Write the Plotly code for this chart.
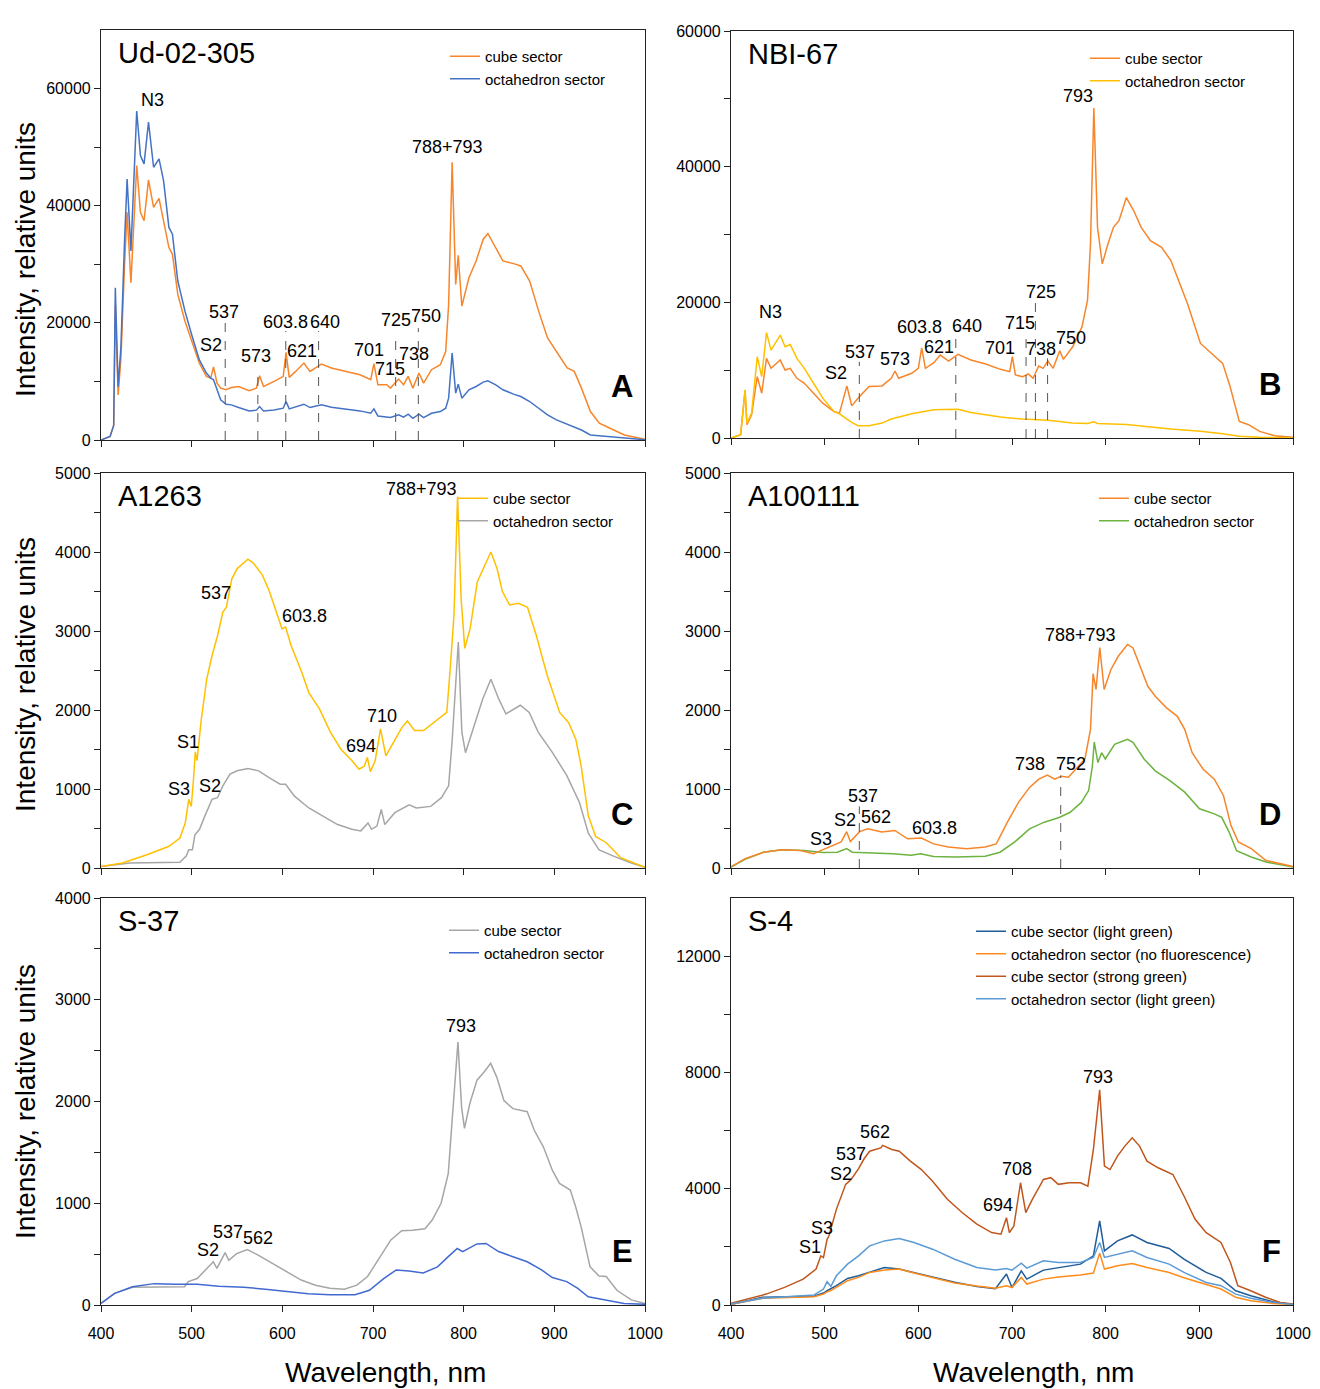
import plotly.graph_objects as go

# ---------------- DATA ----------------
# Panel A: Ud-02-305
A_wl = [400, 410, 414, 415.8, 418.9, 422, 426, 428.8, 433, 439.4, 443.5, 447.5, 452.4, 458, 464, 469, 474.9, 478.8,
        484.7, 492.6, 500.5, 508.4, 516.2, 521, 524.1, 528, 532, 537.9, 543.8, 551.7, 563.5, 571.4, 574.9, 579.3,
        591, 601, 604.1, 607.6, 614.7, 623.8, 630.5, 643.1, 654.1, 669.9, 685.7, 697.5, 701, 705.4, 715.2, 719.2,
        728.2, 733.7, 738.8, 744, 750.7, 755.8, 764.5, 774.3, 780.2, 783.4, 787.3, 791.2, 794, 798, 805.8, 813.7,
        821.6, 826.7, 835.4, 843.3, 855.1, 863, 872.8, 882.7, 892.5, 902.4, 914.2, 922, 929.9, 939.8, 949.6, 961.5,
        977.2, 1000]
A_cube = [0, 600, 2500, 23000, 7700, 14000, 30000, 38860, 26860, 46860, 38860, 37430, 44400, 39700, 41260, 37430,
          32860, 31700, 24860, 20290, 16860, 13140, 10860, 10570, 12460, 9710, 8860, 8570, 8970, 9140, 8400, 8860,
          10970, 9140, 10000, 10860, 14970, 10690, 11710, 13140, 11710, 12970, 12290, 11710, 11140, 10290, 13030,
          9430, 9430, 8860, 10400, 9430, 10860, 8860, 11430, 9710, 12000, 12860, 15140, 23140, 47430, 26570, 31540,
          22860, 27710, 30570, 34290, 35260, 32860, 30570, 30110, 29710, 27140, 22000, 17430, 15140, 12290, 11710,
          8860, 4860, 2860, 2000, 860, 110]
A_octa = [0, 600, 2500, 26000, 9100, 16000, 34000, 44570, 32280, 56170, 48570, 47140, 54290, 46570, 48000, 44290,
          36290, 35140, 27140, 22000, 17710, 13710, 11430, 10570, 10290, 8570, 6860, 6110, 6000, 5540, 4970, 5100,
          5710, 4970, 5140, 5430, 6570, 5310, 5710, 6110, 5540, 6000, 5600, 5260, 4970, 4570, 5310, 4110, 4000,
          3830, 4290, 3900, 4400, 3710, 4400, 3830, 4570, 4860, 5430, 7140, 14860, 8000, 9540, 7140, 8570, 9140,
          9890, 10110, 9430, 8570, 7830, 7430, 6570, 5430, 4290, 3430, 2690, 2290, 1710, 860, 740, 510, 290, 50]

# Panel B: NBI-67
B_cube_wl = [400, 410.3, 415, 417, 422, 428, 432.8, 437.9, 442.7, 452.6, 457.7, 463.2, 470.4, 478.3, 488.1, 498,
             509.9, 515.8, 523.7, 528.9, 535.6, 547.4, 561.3, 571.1, 575.1, 579, 592.9, 600, 603.6, 607.5, 616.6,
             623.3, 632.4, 642.3, 656.1, 671.9, 687.7, 697.6, 700.4, 703.6, 711.5, 717.4, 722.5, 728.5, 733.2,
             738.3, 743.9, 751, 754.9, 764.8, 774.7, 780.6, 783.8, 787.4, 791.3, 796.4, 802.4, 808.3, 814.2,
             822.1, 830, 837.9, 847.8, 859.7, 869.6, 877.5, 887.4, 901.2, 913, 924.9, 932.8, 942.7, 952.6, 964.4,
             980.2, 1000]
B_cube = [0, 490, 7000, 1960, 3420, 9050, 6600, 11740, 10270, 11490, 10020, 10270, 8800, 8070, 6600, 5130, 3910,
          3670, 7680, 4740, 5870, 7580, 7680, 8800, 9880, 8800, 9540, 10270, 13300, 10270, 11100, 12230, 11350,
          12320, 11490, 10900, 10120, 9780, 11980, 9290, 9050, 9440, 8800, 10610, 10270, 11350, 10270, 12860,
          11590, 13450, 16380, 20290, 28610, 48660, 31050, 25670, 28610, 31050, 32030, 35450, 33500, 31050,
          29100, 28120, 26160, 23230, 19800, 13940, 12470, 11000, 7580, 2450, 1960, 980, 340, 100]
B_octa_wl = [400, 410.3, 415, 417, 422, 428, 432.8, 437.9, 442.7, 452.6, 457.7, 463.2, 470.4, 478.3, 488.1, 498,
             509.9, 515.8, 523.7, 528.9, 535.6, 547.4, 561.3, 571.1, 592.9, 616.6, 642.3, 656.1, 671.9, 687.7,
             711.5, 738.3, 764.8, 780.6, 787.4, 791.3, 822.1, 869.6, 901.2, 924.9, 942.7, 964.4, 1000]
B_octa = [0, 490, 7090, 2200, 3670, 11980, 9050, 15550, 12960, 15160, 13450, 13790, 11740, 10270, 8070, 5870,
          3910, 3570, 2790, 2300, 1810, 1810, 2200, 2790, 3570, 4160, 4250, 3770, 3420, 3080, 2790, 2600, 2200,
          2150, 2400, 2150, 2000, 1320, 980, 640, 250, 100, 0]

# Panel C: A1263
C_cube_wl = [400, 423.7, 451.4, 475.1, 487, 492.9, 496.8, 499.6, 502, 504, 505.9, 510.7, 516.6, 522.5, 528.5,
             534.4, 538.3, 544.3, 550.2, 562.1, 568, 577.9, 585.8, 593.7, 599.6, 603.6, 609.5, 621.3, 629.2,
             641.1, 653, 664.8, 676.7, 684.6, 690.5, 693.7, 697.2, 702.4, 708.3, 714.2, 724.1, 732, 737.9, 745.8,
             755.7, 771.5, 781.4, 785.4, 789.3, 793.3, 797.2, 801.2, 807.1, 815, 822.9, 830, 836.8, 842.7, 850.6,
             860.5, 870.4, 880.2, 892.1, 905.9, 915.8, 923.7, 929.6, 937.5, 945.5, 957.3, 973.1, 1000]
C_cube = [20, 64, 170, 275, 380, 570, 870, 780, 1120, 1470, 1360, 1890, 2390, 2690, 2940, 3240, 3300, 3660, 3790,
          3910, 3860, 3710, 3500, 3240, 3030, 3050, 2820, 2480, 2220, 2010, 1720, 1500, 1360, 1250, 1290, 1400,
          1220, 1360, 1760, 1420, 1630, 1780, 1860, 1740, 1740, 1880, 1970, 2560, 3200, 4700, 3410, 2780, 3030,
          3620, 3830, 4000, 3790, 3500, 3330, 3350, 3300, 2940, 2440, 1970, 1840, 1630, 1290, 660, 400, 320, 130, 10]
C_octa_wl = [400, 431.6, 487, 494, 496.8, 500.8, 503.6, 508.7, 514.6, 522.5, 528.5, 534.4, 542.3, 550.2, 562.1,
             573.9, 585.8, 597.6, 603.6, 613.4, 629.2, 645.1, 660.9, 676.7, 686.6, 694.5, 698.4, 704.3, 709.1,
             713, 724.1, 739.9, 747.8, 763.6, 775.5, 783.4, 787.4, 794.1, 798, 802, 811.1, 821, 830, 838.7, 846.6,
             862.5, 872.3, 882.2, 898, 913.8, 927.7, 937.5, 949.4, 965.2, 985, 1000]
C_octa = [20, 64, 72, 150, 230, 230, 420, 490, 660, 870, 890, 1040, 1190, 1230, 1260, 1230, 1140, 1060, 1060, 910,
          760, 660, 550, 490, 470, 570, 490, 530, 740, 550, 700, 800, 760, 780, 890, 1040, 1630, 2860, 1720, 1460,
          1800, 2140, 2390, 2140, 1950, 2060, 1970, 1720, 1460, 1170, 830, 440, 230, 150, 64, 10]

# Panel D: A100111
D_cube_wl = [400, 415, 434.7, 454.4, 474.2, 488, 493.9, 505.7, 517.6, 523.5, 527.4, 537.3, 546, 561, 574.8, 588.6,
             603.2, 616.2, 632, 651.7, 671.4, 683.2, 695.1, 706.9, 718.7, 728.6, 737.7, 745.6, 752.3, 760.2, 770,
             777.9, 783.8, 786.6, 789.7, 793.7, 798.4, 805.5, 813.4, 823.3, 829.2, 837.1, 845, 852.9, 864.7, 876.5,
             884.4, 892.3, 904.1, 916, 925.8, 933.7, 941.6, 955.4, 971.2, 1000]
D_cube = [13, 118, 200, 230, 220, 180, 210, 265, 330, 460, 335, 460, 495, 455, 475, 370, 380, 305, 265, 245, 265,
          305, 580, 830, 1020, 1125, 1175, 1125, 1160, 1150, 1270, 1380, 1755, 2460, 2260, 2790, 2260, 2510, 2680,
          2830, 2785, 2550, 2300, 2175, 2030, 1920, 1755, 1460, 1250, 1125, 915, 540, 330, 245, 95, 20]
D_octa_wl = [400, 415, 434.7, 454.4, 478.1, 497.8, 513.6, 523.5, 529.4, 553.1, 572.8, 592.5, 602.4, 616.2, 639.8,
             671.4, 687.2, 703, 718.7, 734.5, 750.3, 762.1, 774, 781.8, 785.8, 787.8, 791.7, 795.7, 799.6, 809.5,
             823.3, 829.2, 841, 852.9, 868.6, 884.4, 900.2, 916, 923.9, 931.8, 939.7, 955.4, 971.2, 1000]
D_octa = [13, 110, 200, 230, 220, 195, 200, 245, 200, 190, 180, 160, 180, 145, 140, 150, 200, 330, 495, 580, 640,
          705, 830, 980, 1290, 1595, 1335, 1460, 1380, 1565, 1630, 1590, 1380, 1230, 1105, 960, 750, 685, 640, 455,
          220, 140, 75, 13]

# Panel E: S-37
E_cube_wl = [400, 415, 434.8, 458.6, 492.2, 496.2, 506.1, 523.9, 527.8, 536.9, 540.9, 549.6, 561.5, 573.3, 589.2,
             605, 620.8, 636.6, 652.5, 668.3, 682.2, 694, 707.9, 719.7, 731.6, 743.5, 757.3, 765.3, 775.1, 783,
             787, 793.7, 797.7, 800.9, 806.8, 814.7, 822.6, 829.8, 836.5, 844.4, 854.3, 862.2, 870.1, 878, 887.9,
             897.8, 905.7, 917.6, 923.5, 929.5, 939.4, 949.3, 957.2, 969, 984.9, 1000]
E_cube = [16, 115, 175, 180, 180, 230, 260, 425, 360, 515, 440, 505, 545, 490, 410, 325, 245, 195, 165, 155, 195,
          280, 475, 640, 730, 735, 750, 835, 1000, 1290, 1780, 2585, 1945, 1735, 1980, 2210, 2290, 2375, 2240,
          2010, 1930, 1915, 1900, 1715, 1555, 1325, 1195, 1130, 965, 770, 375, 285, 280, 145, 50, 15]
E_octa_wl = [400, 415, 434.8, 458.6, 482.3, 506.1, 529.8, 557.5, 581.2, 605, 628.7, 652.5, 680.2, 696, 711.8,
             725.7, 739.6, 755.4, 771.2, 783, 792.9, 798.9, 814.7, 824.6, 838.5, 854.3, 870.1, 885.9, 897.8, 913.6,
             925.5, 937.4, 953.2, 976.9, 1000]
E_octa = [16, 115, 180, 210, 205, 205, 185, 175, 155, 130, 110, 100, 100, 145, 260, 345, 335, 315, 375, 475, 555,
          525, 600, 605, 525, 475, 425, 345, 270, 230, 165, 80, 55, 15, 7]

# Panel F: S-4
F_strong_wl = [400, 417.8, 437.5, 457.2, 477, 490.8, 495.9, 498.7, 502.6, 504.6, 512.5, 522.4, 528.3, 536.2,
               542.1, 548, 559.9, 561.9, 571.7, 579.6, 591.5, 603.3, 615.2, 631, 646.7, 662.5, 678.3, 688.2,
               694.1, 697.2, 702, 709.1, 714.7, 721.7, 733.6, 741.5, 749.4, 761.2, 773.1, 781, 786.9, 793.6, 798.7,
               804.7, 812.6, 820.5, 828.3, 836.2, 844.1, 856, 871.8, 883.6, 895.5, 907.3, 923.1, 933.2, 941.1,
               954.9, 970.7, 986.4, 1000]
F_strong = [57, 205, 375, 605, 890, 1235, 1690, 1630, 2260, 2380, 3290, 4150, 4320, 4690, 5030, 5290, 5405, 5490,
            5350, 5290, 4950, 4660, 4260, 3635, 3180, 2780, 2490, 2435, 3005, 2490, 2720, 4205, 3180, 3635, 4320,
            4380, 4150, 4205, 4205, 4090, 5350, 7405, 4780, 4660, 5120, 5465, 5750, 5465, 4950, 4720, 4490, 3750,
            2950, 2490, 2150, 1465, 665, 490, 265, 90, 30]
F_common_wl = [400, 433.6, 488.8, 498.7, 502.6, 506.6, 512.5, 524.4, 536.2, 548, 563.8, 579.6, 595.4, 615.2, 638.8,
               662.5, 682.3, 694.1, 700, 709.9, 715.8, 733.6, 749.4, 773.1, 786.9, 793.6, 798.7, 812.6, 828.3,
               844.1, 867.8, 883.6, 907.3, 923.1, 938.9, 954.9, 978.3, 1000]
F_octa_light = [30, 230, 345, 550, 800, 640, 1005, 1405, 1690, 2035, 2205, 2285, 2150, 1920, 1575, 1290, 1200,
                1255, 1200, 1440, 1270, 1520, 1465, 1465, 1635, 2150, 1635, 1750, 1865, 1635, 1405, 1120, 775,
                665, 375, 230, 90, 20]
F_cube_light = [20, 265, 300, 410, 490, 560, 665, 915, 1005, 1130, 1290, 1235, 1120, 970, 780, 640, 560, 1065,
                600, 1175, 890, 1200, 1290, 1405, 1690, 2890, 1865, 2205, 2410, 2150, 1945, 1575, 1120, 915, 490,
                320, 115, 20]
F_octa_none = [20, 230, 285, 375, 450, 500, 605, 835, 950, 1120, 1200, 1235, 1100, 950, 760, 650, 580, 665, 600,
               950, 720, 890, 960, 1030, 1100, 1785, 1235, 1350, 1430, 1290, 1120, 940, 700, 550, 265, 150, 55, 15]

# dashed marker lines: (wavelength, top intensity)
A_marks_wl = [537, 573, 603.8, 640, 725, 750]
A_marks_top = [20300, 12300, 18600, 18600, 18300, 19100]
B_marks_wl = [537, 640, 715, 725, 738]
B_marks_top = [11250, 14700, 15900, 20050, 11740]
D_marks_wl = [537, 752]
D_marks_top = [780, 1170]

# peak labels: (text, wavelength, intensity)
A_labels = [("N3", 457, 58100), ("S2", 521, 16300), ("537", 535.6, 21900), ("573", 571, 14400),
            ("603.8", 603, 20200), ("621", 621.6, 15250), ("640", 647, 20200), ("701", 695.5, 15400),
            ("715", 718.6, 12200), ("725", 725, 20570), ("750", 758, 21250), ("738", 745, 14740),
            ("788+793", 782.6, 50050)]
B_labels = [("N3", 441.9, 18580), ("S2", 511.9, 9540), ("537", 537.5, 12710), ("573", 575, 11590),
            ("603.8", 600.8, 16380), ("621", 621.7, 13450), ("640", 652.2, 16480), ("701", 687, 13200),
            ("715", 708.7, 16970), ("725", 731.2, 21520), ("738", 731.2, 13060), ("750", 762.8, 14670),
            ("793", 770.8, 50370)]
C_labels = [("537", 526.5, 3475), ("603.8", 624.5, 3190), ("710", 710.3, 1920), ("694", 686.6, 1550),
            ("S1", 495.7, 1600), ("S3", 486.2, 1000), ("S2", 520.6, 1040), ("788+793", 753, 4800)]
D_labels = [("788+793", 772.8, 2950), ("738", 719.5, 1315), ("752", 763, 1315), ("537", 541.2, 915),
            ("S2", 521.5, 613), ("562", 555, 643), ("603.8", 617.4, 504), ("S3", 495.9, 370)]
E_labels = [("793", 796.9, 2745), ("S2", 517.9, 540), ("537", 539.7, 720), ("562", 573.3, 655)]
F_labels = [("793", 792, 7860), ("562", 554, 5945), ("537", 528.3, 5180), ("S2", 517.3, 4490),
            ("708", 704.8, 4665), ("694", 685.4, 3430), ("S3", 497.5, 2660), ("S1", 484.1, 2000)]

samples = ["Ud-02-305", "NBI-67", "A1263", "A100111", "S-37", "S-4"]
panel_letters = ["A", "B", "C", "D", "E", "F"]

x_ticks = [400, 500, 600, 700, 800, 900, 1000]
y_ticks = {
    1: ([0, 10000, 20000, 30000, 40000, 50000, 60000], ["0", "", "20000", "", "40000", "", "60000"]),
    2: ([0, 10000, 20000, 30000, 40000, 50000, 60000], ["0", "", "20000", "", "40000", "", "60000"]),
    3: ([0, 500, 1000, 1500, 2000, 2500, 3000, 3500, 4000, 4500, 5000],
        ["0", "", "1000", "", "2000", "", "3000", "", "4000", "", "5000"]),
    4: ([0, 500, 1000, 1500, 2000, 2500, 3000, 3500, 4000, 4500, 5000],
        ["0", "", "1000", "", "2000", "", "3000", "", "4000", "", "5000"]),
    5: ([0, 500, 1000, 1500, 2000, 2500, 3000, 3500, 4000],
        ["0", "", "1000", "", "2000", "", "3000", "", "4000"]),
    6: ([0, 2000, 4000, 6000, 8000, 10000, 12000], ["0", "", "4000", "", "8000", "", "12000"]),
}
y_ranges = {1: 70000, 2: 60000, 3: 5000, 4: 5000, 5: 4000, 6: 14000}

# ---------------- STYLE ----------------
FONT = "Liberation Sans, Arial, sans-serif"
W, H = 1320, 1389
ORANGE = "#F7862B"
BLUE = "#4472C4"
YELLOW = "#FFC000"
GRAY = "#A6A6A6"
GREEN = "#6DB33F"
E_BLUE = "#4169D0"
F_DARKBLUE = "#1F5C99"
F_ORANGE = "#FF8C1A"
F_BROWN = "#C0561C"
F_LIGHTBLUE = "#5B9BD5"

def px_x(p):
    return p / W

def px_y(p):
    return 1 - p / H

# plot-area rectangles in pixels (left, right, top, bottom)
rects = {
    1: (101, 645, 30, 440),
    2: (731, 1293, 31, 438),
    3: (101, 645, 473, 868),
    4: (731, 1293, 473, 868),
    5: (101, 645, 898, 1305),
    6: (731, 1293, 898, 1305),
}
legend_pos = {1: (445, 40), 2: (1085, 42), 3: (453, 482), 4: (1094, 482), 5: (444, 914), 6: (971, 915)}

fig = go.Figure()

def add(i, x, y, name, color, rank):
    sfx = "" if i == 1 else str(i)
    fig.add_trace(go.Scatter(x=x, y=y, mode="lines", name=name, line=dict(color=color, width=1.5),
                             xaxis="x" + sfx, yaxis="y" + sfx, legend="legend" + sfx, legendrank=rank))

add(1, A_wl, A_cube, "cube sector", ORANGE, 1)
add(1, A_wl, A_octa, "octahedron sector", BLUE, 2)
add(2, B_cube_wl, B_cube, "cube sector", ORANGE, 1)
add(2, B_octa_wl, B_octa, "octahedron sector", YELLOW, 2)
add(3, C_octa_wl, C_octa, "octahedron sector", GRAY, 2)
add(3, C_cube_wl, C_cube, "cube sector", YELLOW, 1)
add(4, D_octa_wl, D_octa, "octahedron sector", GREEN, 2)
add(4, D_cube_wl, D_cube, "cube sector", ORANGE, 1)
add(5, E_cube_wl, E_cube, "cube sector", GRAY, 1)
add(5, E_octa_wl, E_octa, "octahedron sector", E_BLUE, 2)
add(6, F_common_wl, F_cube_light, "cube sector (light green)", F_DARKBLUE, 1)
add(6, F_common_wl, F_octa_none, "octahedron sector (no fluorescence)", F_ORANGE, 2)
add(6, F_strong_wl, F_strong, "cube sector (strong green)", F_BROWN, 3)
add(6, F_common_wl, F_octa_light, "octahedron sector (light green)", F_LIGHTBLUE, 4)

layout = dict(width=W, height=H, autosize=False, paper_bgcolor="white", plot_bgcolor="white",
              margin=dict(l=0, r=0, t=0, b=0, autoexpand=False), font=dict(family=FONT, color="black", size=16))

for i in range(1, 7):
    sfx = "" if i == 1 else str(i)
    l, r, t, b = rects[i]
    tv, tt = y_ticks[i]
    layout["xaxis" + sfx] = dict(domain=[px_x(l), px_x(r)], anchor="y" + sfx, range=[400, 1000],
                                 tickvals=x_ticks, ticktext=[str(v) for v in x_ticks], automargin=False,
                                 showticklabels=(i >= 5), ticks="outside", ticklen=6, tickcolor="#222",
                                 ticklabelstandoff=8,
                                 showline=True, linecolor="#222", linewidth=1.2, mirror=True,
                                 showgrid=False, zeroline=False, tickfont=dict(size=16))
    layout["yaxis" + sfx] = dict(domain=[px_y(b), px_y(t)], anchor="x" + sfx, range=[0, y_ranges[i]],
                                 tickvals=tv, ticktext=tt, ticks="outside", ticklen=6, tickcolor="#222",
                                 showline=True, linecolor="#222", linewidth=1.2, mirror=True, automargin=False,
                                 showgrid=False, zeroline=False, tickfont=dict(size=16))
    lx, ly = legend_pos[i]
    layout["legend" + sfx] = dict(x=px_x(lx), y=px_y(ly), xanchor="left", yanchor="top",
                                  bgcolor="rgba(0,0,0,0)", font=dict(size=15, family=FONT),
                                  traceorder="normal", itemwidth=30)

fig.update_layout(**layout)
fig.update_layout(showlegend=True)

annotations = []
shapes = []
label_sets = {1: A_labels, 2: B_labels, 3: C_labels, 4: D_labels, 5: E_labels, 6: F_labels}
for i in range(1, 7):
    sfx = "" if i == 1 else str(i)
    for text, xv, yv in label_sets[i]:
        annotations.append(dict(text=text, x=xv, y=yv, xref="x" + sfx, yref="y" + sfx, showarrow=False,
                                font=dict(size=18, family=FONT), xanchor="center", yanchor="middle"))
    l, r, t, b = rects[i]
    annotations.append(dict(text=samples[i - 1], x=px_x(l + 15), y=px_y(t + 23), xref="paper", yref="paper",
                            showarrow=False, font=dict(size=29, family=FONT), xanchor="left",
                            yanchor="middle"))
    annotations.append(dict(text="<b>" + panel_letters[i - 1] + "</b>", x=px_x(r - 10), y=px_y(b - 54),
                            xref="paper", yref="paper", showarrow=False,
                            font=dict(size=31, family=FONT), xanchor="right", yanchor="middle"))

for sfx, wls, tops in [("", A_marks_wl, A_marks_top), ("2", B_marks_wl, B_marks_top), ("4", D_marks_wl, D_marks_top)]:
    for xv, top in zip(wls, tops):
        shapes.append(dict(type="line", xref="x" + sfx, yref="y" + sfx, x0=xv, x1=xv, y0=0, y1=top,
                           line=dict(color="#555", width=1, dash="dash")))

for cy in [260, 675, 1102]:
    annotations.append(dict(text="Intensity, relative units", x=px_x(25), y=px_y(cy), xref="paper", yref="paper",
                            showarrow=False, textangle=-90, font=dict(size=28, family=FONT),
                            xanchor="center", yanchor="middle"))
for cx in [385, 1033]:
    annotations.append(dict(text="Wavelength, nm", x=px_x(cx), y=px_y(1372), xref="paper", yref="paper",
                            showarrow=False, font=dict(size=28, family=FONT), xanchor="center", yanchor="middle"))

fig.update_layout(annotations=annotations, shapes=shapes)

css_fix = ("document.body.style.margin='0';document.body.style.padding='0';"
           "document.body.style.overflow='hidden';document.documentElement.style.overflow='hidden';")
fig.write_html("out.html", post_script=css_fix, config={"responsive": False})
